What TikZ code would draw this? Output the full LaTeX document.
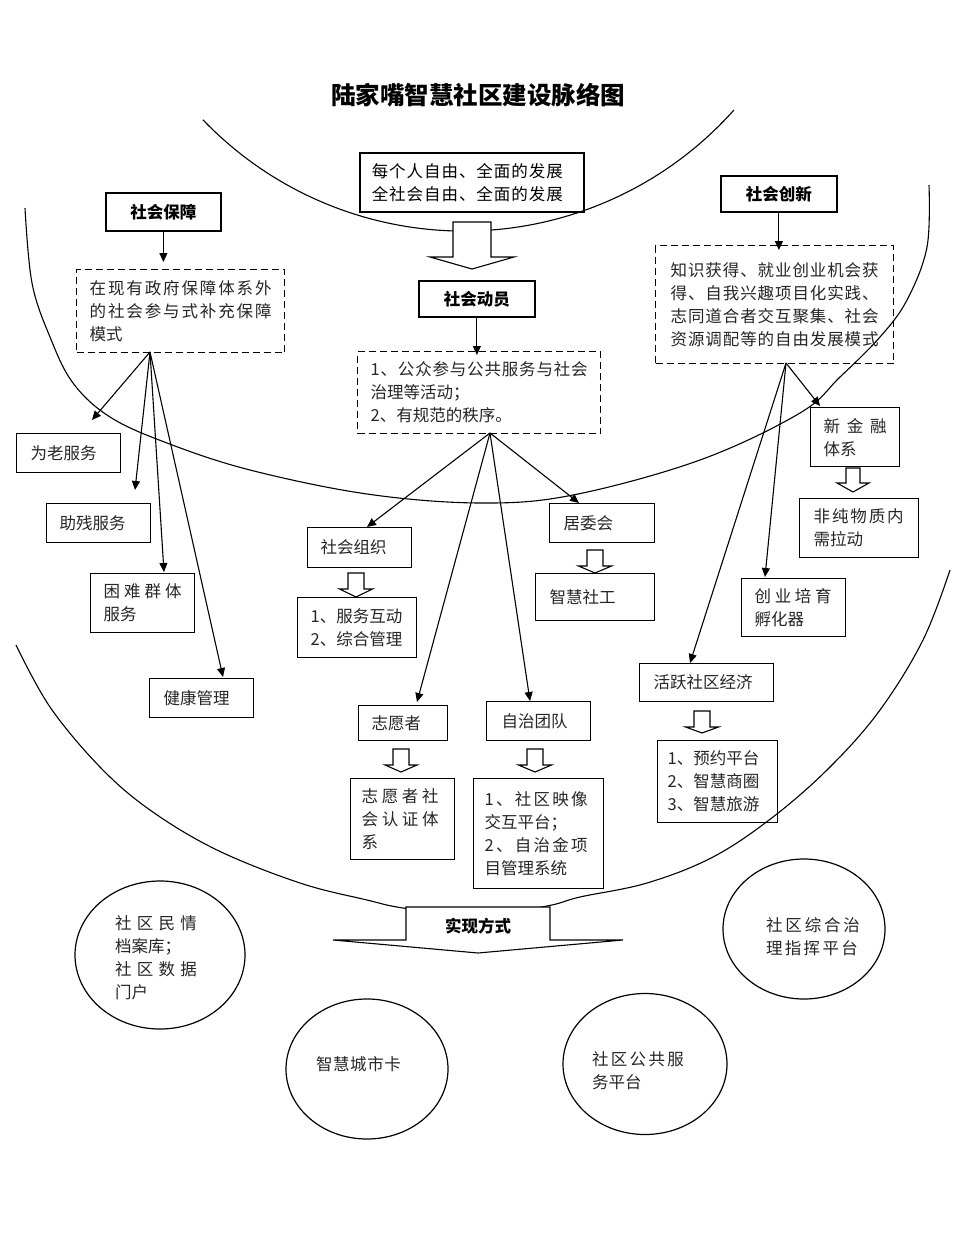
\documentclass[tikz,border=0pt]{standalone}
\usepackage{fontspec}
\setmainfont{Noto Sans CJK SC}
\usetikzlibrary{arrows.meta,shapes.geometric}
\makeatletter
\newcommand\spread[2]{\leavevmode\hbox to #1{\spread@a#2\relax}}
\def\spread@a#1#2{#1\ifx\relax#2\else\hfill\expandafter\spread@a\expandafter#2\fi}
\makeatother
\newcommand\bodyf{\fontsize{16.5}{23}\selectfont}
\newcommand\boldf{\fontsize{16.5}{23}\selectfont\bfseries}
\newcommand\hollowarrow[6]{\draw[hol] ({#1-#3},#2) -- ({#1+#3},#2) -- ({#1+#3},#4) -- ({#1+#5},#4) -- (#1,#6) -- ({#1-#5},#4) -- ({#1-#3},#4) -- cycle;}
\begin{document}
\begin{tikzpicture}[x=1pt,y=-1pt,line join=miter,
  arcl/.style={line width=1.1pt},
  bx/.style={draw, line width=1.3pt, rectangle, anchor=north west, inner ysep=0pt, align=left, font=\bodyf, text=black!85},
  dbx/.style={bx, dash pattern=on 7pt off 4pt},
  hb/.style={draw, line width=1.8pt, rectangle, anchor=north west, inner sep=0pt, align=center, font=\boldf},
  arr/.style={line width=1.1pt, -{Triangle[length=9pt,width=8pt]}},
  hol/.style={draw, line width=1.1pt, fill=white},
  el/.style={draw, ellipse, line width=1.2pt, inner sep=0pt},
  et/.style={align=left, font=\bodyf, text=black!85, inner sep=0pt}]
\useasboundingbox (0,0) rectangle (960,1236);
\fill[white] (0,0) rectangle (960,1236);

% arcs
\draw[arcl] plot[domain=41.7:136.2, samples=80] ({463.9+361.7*cos(\x)},{-130.6+361.7*sin(\x)});
\draw[arcl] plot[smooth, tension=0.6] coordinates {(25,208) (32,283) (50,337) (73,383) (110,417) (167,443) (250,470) (367,494) (480,503) (573,495) (700,460) (800,413) (840,377) (880,337) (907,300) (927,247) (929,185)};
\draw[arcl] plot[smooth, tension=0.6] coordinates {(16,645) (50,707) (100,767) (150,810) (217,850) (300,883) (367,900) (403,908) (475,917) (547,906) (580,897) (647,883) (713,857) (773,817) (830,767) (880,710) (923,640) (950,570)};

% title
\node[font=\fontsize{24.5}{28}\selectfont\bfseries] (title) at (478,95) {陆家嘴智慧社区建设脉络图};

% top
\node[hb, line width=1.6pt, font=\fontsize{16.5}{23}\selectfont, minimum width=224pt, minimum height=59pt, text width=200pt, inner xsep=12pt, align=left] (goal) at (359,152) {\spread{191pt}{每个人自由、全面的发展}\\\spread{191pt}{全社会自由、全面的发展}};
\node[hb, minimum width=115pt, minimum height=38pt] (sb) at (105,192) {社会保障};
\node[hb, minimum width=116pt, minimum height=36pt] (sd) at (418,280) {社会动员};
\node[hb, minimum width=116pt, minimum height=36pt] (sc) at (720,175) {社会创新};

% dashed boxes
\node[dbx, minimum width=208pt, minimum height=83pt, text width=182pt, inner xsep=13pt] (d1) at (76,269) {\spread{182pt}{在现有政府保障体系外}\\\spread{182pt}{的社会参与式补充保障}\\模式};
\node[dbx, minimum width=243pt, minimum height=82pt, text width=217pt, inner xsep=13pt] (d2) at (357,351) {\spread{217pt}{1、公众参与公共服务与社会}\\治理等活动；\\2、有规范的秩序。};
\node[dbx, minimum width=238pt, minimum height=118pt, text width=208pt, inner xsep=15pt] (d3) at (655,245) {\spread{208pt}{知识获得、就业创业机会获}\\\spread{208pt}{得、自我兴趣项目化实践、}\\\spread{208pt}{志同道合者交互聚集、社会}\\\spread{208pt}{资源调配等的自由发展模式}};

% left boxes
\node[bx, minimum width=104pt, minimum height=39pt, text width=76pt, inner xsep=14pt] (wl) at (16,433) {为老服务};
\node[bx, minimum width=104pt, minimum height=39pt, text width=78pt, inner xsep=13pt] (zc) at (46,503) {助残服务};
\node[bx, minimum width=104pt, minimum height=59pt, text width=78pt, inner xsep=13pt] (kn) at (90,573) {\spread{78pt}{困难群体}\\服务};
\node[bx, minimum width=104pt, minimum height=39pt, text width=76pt, inner xsep=14pt] (jk) at (149,678) {健康管理};

% middle boxes
\node[bx, minimum width=104pt, minimum height=40pt, text width=78pt, inner xsep=13pt] (zz) at (307,527) {社会组织};
\node[bx, minimum width=119pt, minimum height=60pt, text width=93pt, inner xsep=13pt] (fw) at (297,597) {1、服务互动\\2、综合管理};
\node[bx, minimum width=105pt, minimum height=39pt, text width=77pt, inner xsep=14pt] (jw) at (549,503) {居委会};
\node[bx, minimum width=119pt, minimum height=47pt, text width=91pt, inner xsep=14pt] (sg) at (535,573) {智慧社工};
\node[bx, minimum width=89pt, minimum height=35pt, text width=63pt, inner xsep=13pt] (zy) at (358,705) {志愿者};
\node[bx, minimum width=104pt, minimum height=39pt, text width=74pt, inner xsep=15pt] (zt) at (486,701) {自治团队};
\node[bx, minimum width=104pt, minimum height=81pt, text width=82pt, inner xsep=11pt] (zr) at (350,778) {\spread{77pt}{志愿者社}\\\spread{77pt}{会认证体}\\系};
\node[bx, minimum width=130pt, minimum height=110pt, text width=108pt, inner xsep=11pt] (zj) at (473,778) {\spread{103pt}{1、社区映像}\\交互平台；\\\spread{103pt}{2、自治金项}\\目管理系统};

% right boxes
\node[bx, minimum width=89pt, minimum height=59pt, text width=63pt, inner xsep=13pt] (xj) at (810,407) {\spread{63pt}{新金融}\\体系};
\node[bx, minimum width=119pt, minimum height=59pt, text width=91pt, inner xsep=14pt] (fc) at (799,498) {\spread{90pt}{非纯物质内}\\需拉动};
\node[bx, minimum width=104pt, minimum height=58pt, text width=78pt, inner xsep=13pt] (cy) at (741,578) {\spread{77pt}{创业培育}\\孵化器};
\node[bx, minimum width=134pt, minimum height=38pt, text width=106pt, inner xsep=14pt] (hy) at (639,663) {活跃社区经济};
\node[bx, minimum width=120pt, minimum height=82pt, text width=100pt, inner xsep=10pt] (yy) at (657,740) {1、预约平台\\2、智慧商圈\\3、智慧旅游};

% ellipses
\node[el, minimum width=170pt, minimum height=148pt] (e1) at (160,955) {};
\node[et, text width=82pt] (e1t) at (156,957.5) {\spread{82pt}{社区民情}\\档案库；\\\spread{82pt}{社区数据}\\门户};
\node[el, minimum width=162pt, minimum height=140pt] (e2) at (804,929) {};
\node[et, text width=94pt] (e2t) at (813,936.5) {\spread{94pt}{社区综合治}\\\spread{92pt}{理指挥平台}};
\node[el, minimum width=162pt, minimum height=140pt] (e3) at (367,1069) {};
\node[et, text width=85pt] (e3t) at (358.5,1064) {\spread{85pt}{智慧城市卡}};
\node[el, minimum width=164pt, minimum height=141pt] (e4) at (645,1064) {};
\node[et, text width=92pt] (e4t) at (638,1070.5) {\spread{92pt}{社区公共服}\\务平台};

% hollow arrows
\hollowarrow{472}{222}{19}{257}{42}{269}
\hollowarrow{356}{573}{8}{589}{16.5}{597}
\hollowarrow{595}{550}{8}{566}{16.5}{573}
\hollowarrow{853}{468}{7}{483}{16}{492}
\hollowarrow{401}{749}{8}{765}{16}{772}
\hollowarrow{535}{749}{8}{765}{16.5}{772}
\hollowarrow{702}{711}{8}{727}{16.5}{733}
\hollowarrow{478}{907}{72}{940}{145}{953}
\node[font=\boldf] (sx) at (478,926) {实现方式};

% connectors
\draw[arr, shorten >=7pt] (sb.south) -- (sb.south |- d1.north);
\draw[arr, shorten >=-4pt] (sd.south) -- (sd.south |- d2.north);
\draw[arr, shorten >=-5pt] (sc.south) -- (sc.south |- d3.north);

\coordinate (d1o) at (150,352);
\coordinate (t1) at (92,420);
\coordinate (t2) at (135,490);
\coordinate (t3) at (164,572);
\coordinate (t4) at (223,677);
\draw[arr] (d1o) -- (t1);
\draw[arr] (d1o) -- (t2);
\draw[arr] (d1o) -- (t3);
\draw[arr] (d1o) -- (t4);

\coordinate (d2o) at (490,433);
\coordinate (m1) at (367,527);
\coordinate (m2) at (579,503);
\coordinate (m3) at (417,702);
\coordinate (m4) at (530,701);
\draw[arr] (d2o) -- (m1);
\draw[arr] (d2o) -- (m2);
\draw[arr] (d2o) -- (m3);
\draw[arr] (d2o) -- (m4);

\coordinate (d3o) at (786,363);
\coordinate (r1) at (820,406);
\coordinate (r2) at (765,577);
\coordinate (r3) at (690,663);
\draw[arr] (d3o) -- (r1);
\draw[arr] (d3o) -- (r2);
\draw[arr] (d3o) -- (r3);
\end{tikzpicture}
\end{document}
